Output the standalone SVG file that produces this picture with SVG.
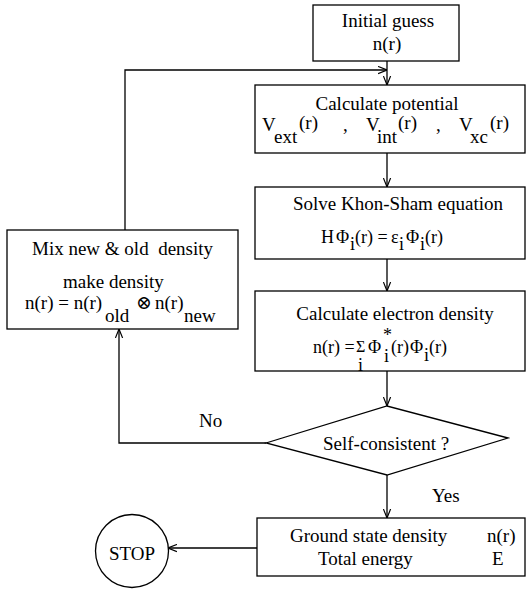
<svg xmlns="http://www.w3.org/2000/svg" width="526" height="590" viewBox="0 0 526 590" font-family="'Liberation Serif', 'Times New Roman', 'DejaVu Serif', serif" font-size="19">
<style>
.box{fill:#fff;stroke:#000;stroke-width:1.3}
.ln{fill:none;stroke:#000;stroke-width:1.3}
text{font-family:'Liberation Serif','Times New Roman','DejaVu Serif',serif;font-size:19px;fill:#000}
.c{text-anchor:middle}
.eq{font-size:18px}
.s{font-size:16px}
</style>
<defs>
<marker id="ah" viewBox="0 0 10 10" refX="10" refY="5" markerWidth="9" markerHeight="9" markerUnits="userSpaceOnUse" orient="auto">
<path d="M0,1 L10,5 L0,9" fill="none" stroke="#000" stroke-width="1.3"/>
</marker>
</defs>
<rect width="526" height="590" fill="#fff"/>
<g id="connectors">
<line class="ln" x1="387" y1="61" x2="387" y2="85" marker-end="url(#ah)"/>
<polyline class="ln" points="125,230 125,70 387,70" marker-end="url(#ah)"/>
<line class="ln" x1="387" y1="153" x2="387" y2="187" marker-end="url(#ah)"/>
<line class="ln" x1="387" y1="259" x2="387" y2="291" marker-end="url(#ah)"/>
<line class="ln" x1="387" y1="371" x2="387" y2="406" marker-end="url(#ah)"/>
<line class="ln" x1="387" y1="475" x2="387" y2="518" marker-end="url(#ah)"/>
<polyline class="ln" points="266,443 119,443 119,329" marker-end="url(#ah)"/>
<line class="ln" x1="257" y1="548" x2="168" y2="548" marker-end="url(#ah)"/>
<text x="199" y="427">No</text>
<text x="432" y="502">Yes</text>
</g>
<g id="init">
<rect class="box" x="313" y="5" width="146" height="56"/>
<text class="c" x="388" y="27">Initial guess</text>
<text class="c" x="387" y="50">n(r)</text>
</g>
<g id="potential">
<rect class="box" x="255" y="85" width="270" height="68"/>
<text class="c" x="387" y="110">Calculate potential</text>
<text><tspan x="262" y="131">V</tspan><tspan x="274" y="143">ext</tspan><tspan x="299" y="129">(r)</tspan><tspan x="343" y="131">,</tspan><tspan x="366" y="131">V</tspan><tspan x="377" y="143">int</tspan><tspan x="398" y="129">(r)</tspan><tspan x="436" y="131">,</tspan><tspan x="459" y="131">V</tspan><tspan x="470" y="143">xc</tspan><tspan x="490" y="129">(r)</tspan></text>
</g>
<g id="kohnsham">
<rect class="box" x="255" y="187" width="270" height="72"/>
<text class="c" x="398" y="210">Solve Khon-Sham equation</text>
<text class="eq"><tspan x="321" y="243">H</tspan><tspan x="336" y="243">Φ</tspan><tspan x="350" y="250">i</tspan><tspan x="355" y="243">(r) =</tspan><tspan x="391" y="243">ε</tspan><tspan x="399" y="250">i</tspan><tspan x="406" y="243">Φ</tspan><tspan x="420" y="250">i</tspan><tspan x="425" y="243">(r)</tspan></text>
</g>
<g id="density">
<rect class="box" x="255" y="291" width="270" height="80"/>
<text class="c" x="395" y="320">Calculate electron density</text>
<text class="eq"><tspan x="313" y="353">n(r) =</tspan><tspan x="356" y="352" class="s">Σ</tspan><tspan x="358" y="371">i</tspan><tspan x="368" y="353">Φ</tspan><tspan x="383" y="341">*</tspan><tspan x="384" y="362">i</tspan><tspan x="391" y="353">(r)</tspan><tspan x="410" y="353">Φ</tspan><tspan x="424" y="361">i</tspan><tspan x="429" y="353">(r)</tspan></text>
</g>
<g id="mix">
<rect class="box" x="7" y="230" width="231" height="99"/>
<text x="32" y="255" xml:space="preserve">Mix new &amp; old  density</text>
<text x="63" y="288">make density</text>
<text><tspan x="25" y="309">n(r) = n(r)</tspan><tspan x="105" y="322">old</tspan><tspan x="136" y="309">⊗</tspan><tspan x="155" y="309">n(r)</tspan><tspan x="184" y="322">new</tspan></text>
</g>
<g id="decision">
<polygon class="box" points="266,443 387,406 508,438 387,475"/>
<text x="323" y="450">Self-consistent ?</text>
</g>
<g id="ground">
<rect class="box" x="257" y="518" width="268" height="58"/>
<text x="290" y="542">Ground state density</text>
<text x="487" y="542">n(r)</text>
<text x="318" y="565">Total energy</text>
<text x="492" y="565">E</text>
</g>
<g id="stop">
<circle class="box" cx="132" cy="551" r="36.5"/>
<text class="c" x="132" y="560">STOP</text>
</g>
</svg>
